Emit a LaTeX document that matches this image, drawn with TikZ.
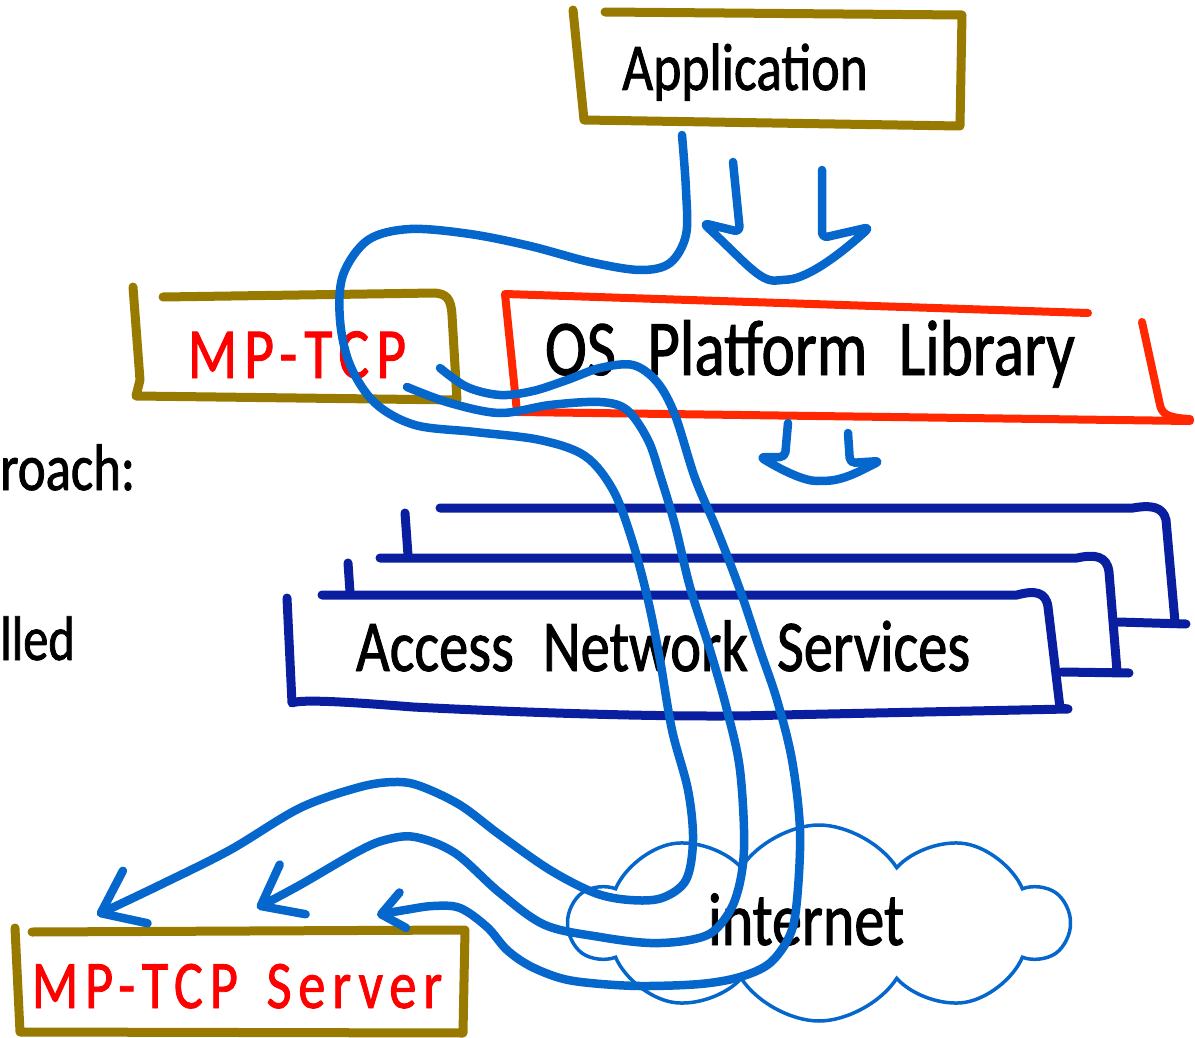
\documentclass[tikz,border=0pt]{standalone}
\usepackage{fontspec}
\usetikzlibrary{arrows.meta, shapes.symbols, positioning}

\newfontfamily\handfont[FakeStretch=0.8, WordSpace=2.2, FakeBold=1.2]{Carlito}
\newfontfamily\handwide[FakeStretch=0.8, WordSpace=1.5, LetterSpace=10, FakeBold=1.2]{Carlito}

\definecolor{boxolive}{RGB}{153,122,0}
\definecolor{osred}{RGB}{255,40,0}
\definecolor{netnavy}{RGB}{10,30,160}
\definecolor{wireblue}{RGB}{5,102,204}
\definecolor{mpred}{RGB}{255,0,0}

\tikzset{
  txt/.style={inner sep=0pt, anchor=base, font=\handfont\fontsize{#1}{#1}\selectfont},
  redtxt/.style={inner sep=0pt, anchor=base, text=mpred, font=\handwide\fontsize{#1}{#1}\selectfont},
  sketch/.style={draw=#1, line width=9pt, line cap=round, line join=round,
    preaction={draw=black!22, transform canvas={shift={(1.5pt,-2.5pt)}}}},
  wire/.style={sketch=wireblue, line width=8.5pt},
}

\begin{document}
\begin{tikzpicture}[x=1pt, y=-1pt]
    \useasboundingbox (0,0) rectangle (1195,1038);

    \node[txt=67] (app) at (745,90) {Application};
    \node[redtxt=72] (mptcp) at (297,378) {MP-TCP};
    \node[txt=79] (os) at (810,375) {OS Platform Library};
    \node[txt=73] (ans) at (663,671) {Access Network Services};
    \node[redtxt=68] (server) at (237,1008) {MP-TCP Server};
    \node[txt=66, anchor=base west] (roach) at (0,490) {roach:};
    \node[txt=63, anchor=base west] (lled) at (0,660) {lled};

    % boxes
    \draw[sketch=boxolive] (573,10) -- (584,120) -- (960,126) -- (962,15) -- (605,12);
    \draw[sketch=boxolive] (133,287) -- (140,380) -- (136,396) -- (457,400) -- (452,315)
        .. controls (451,298) and (446,294) .. (435,293) -- (163,297);
    \draw[sketch=osred, line width=8pt] (1088,313) -- (505,294) -- (517,412) -- (1190,421);
    \draw[sketch=osred, line width=8pt] (1142,322) -- (1160,405) .. controls (1162,415) and (1170,418) .. (1190,419);
    \draw[sketch=boxolive] (15,928) -- (20,1032) -- (463,1033) -- (465,930) -- (32,932);

    % stacked service boxes
    \draw[sketch=netnavy] (405,513) -- (408,555);
    \draw[sketch=netnavy] (440,508) -- (1133,508) .. controls (1150,505) and (1163,506) .. (1166,520)
        -- (1175,622) (1118,622) -- (1186,624);
    \draw[sketch=netnavy] (348,563) -- (350,592);
    \draw[sketch=netnavy] (380,558) -- (1077,558) .. controls (1095,554) and (1107,556) .. (1109,572)
        -- (1117,671) (1062,672) -- (1129,673);
    \draw[sketch=netnavy] (322,595) -- (1017,595) .. controls (1035,590) and (1046,592) .. (1048,607)
        -- (1060,708) -- (1068,709) -- (780,715) .. controls (700,718) and (550,714) .. (413,707)
        .. controls (350,702) and (300,699) .. (292,703) -- (287,598);

    \node[cloud, cloud puffs=10, cloud puff arc=115, cloud ignores aspect, minimum width=498pt,
        minimum height=196pt, draw=wireblue, line width=3.5pt, fill=white] (cloud) at (819,923) {};
    \node[txt=75] (inet) at (806,945) {internet};

    % calls going down
    \draw[wire, rounded corners=6pt] (733,162) -- (740,232) -- (703,223)
        .. controls (745,262) and (760,282) .. (782,280) .. controls (810,278) and (845,250) .. (870,227)
        -- (822,238) -- (822,170);
    \draw[wire, rounded corners=5pt] (788,423) -- (785,457) -- (760,457)
        .. controls (785,472) and (805,481) .. (822,481) .. controls (845,480) and (862,470) .. (880,461)
        -- (850,463) -- (848,433);

    \coordinate (appdrop) at (682,135);
    \coordinate (mpb) at (407,387);
    \coordinate (mpc) at (440,368);
    \coordinate (hita) at (97,915);
    \coordinate (hitb) at (257,908);
    \coordinate (hitc) at (377,915);

    \draw[wire, -{Straight Barb[length=38pt, width=58pt, round]}] plot[smooth, tension=0.55] coordinates {
        (appdrop) (686,190) (686,235) (670,263) (640,270) (590,262) (530,246) (470,234) (410,229)
        (368,240) (343,275) (340,320) (350,365) (375,403) (415,425) (475,432) (540,440) (585,456)
        (613,490) (632,540) (648,600) (660,660) (672,730) (688,790) (693,840) (686,880) (662,898)
        (630,900) (595,893) (550,870) (500,835) (460,805) (420,786) (395,782) (360,787) (300,808)
        (230,850) (160,885) (hita)};
    \draw[wire, -{Straight Barb[length=36pt, width=56pt, round]}] plot[smooth, tension=0.55] coordinates {
        (mpb) (450,403) (500,413) (550,405) (600,402) (627,410) (648,440) (660,475) (675,525)
        (690,587) (710,650) (727,710) (740,770) (744,850) (735,900) (715,930) (690,940) (650,943)
        (600,937) (545,925) (500,893) (455,853) (415,837) (385,840) (357,852) (300,885) (hitb)};
    \draw[wire, -{Straight Barb[length=22pt, width=36pt, round]}] plot[smooth, tension=0.55] coordinates {
        (mpc) (467,387) (500,395) (533,391) (567,380) (600,368) (633,365) (657,382) (675,415)
        (695,478) (717,530) (740,590) (760,650) (777,700) (792,760) (800,830) (797,900) (790,935)
        (770,963) (740,977) (700,984) (640,986) (590,983) (560,978) (530,966) (507,950) (487,927)
        (460,908) (433,906) (405,910) (hitc)};
\end{tikzpicture}
\end{document}
